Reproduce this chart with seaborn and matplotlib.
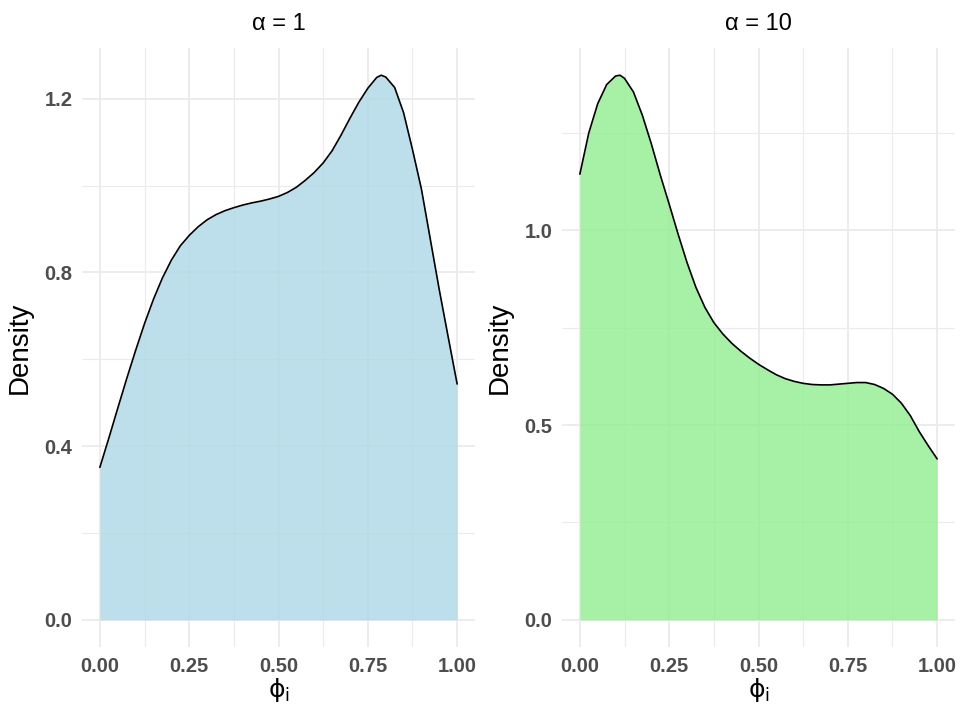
import numpy as np
import pandas as pd
import matplotlib
matplotlib.use("Agg")
import matplotlib.pyplot as plt
import seaborn as sns

# Density estimates of phi_i under two concentration parameters
phi_a1 = [0.0, 0.025, 0.05, 0.075, 0.1, 0.125, 0.15, 0.175, 0.2, 0.225,
          0.25, 0.275, 0.3, 0.325, 0.35, 0.375, 0.4, 0.425, 0.45, 0.475,
          0.5, 0.525, 0.55, 0.575, 0.6, 0.625, 0.65, 0.675, 0.7, 0.725,
          0.75, 0.775, 0.7875, 0.8, 0.825, 0.85, 0.875, 0.9, 0.925, 0.95,
          0.975, 1.0]
dens_a1 = [0.351, 0.418, 0.487, 0.555, 0.620, 0.682, 0.738, 0.787, 0.828,
           0.861, 0.885, 0.905, 0.921, 0.933, 0.942, 0.949, 0.955, 0.960,
           0.964, 0.969, 0.975, 0.984, 0.996, 1.012, 1.030, 1.052, 1.080,
           1.116, 1.155, 1.192, 1.224, 1.249, 1.254, 1.250, 1.226, 1.168,
           1.083, 0.992, 0.876, 0.760, 0.651, 0.543]

phi_a10 = [0.0, 0.025, 0.05, 0.075, 0.1, 0.1125, 0.125, 0.15, 0.175, 0.2,
           0.225, 0.25, 0.275, 0.3, 0.325, 0.35, 0.375, 0.4, 0.425, 0.45,
           0.475, 0.5, 0.525, 0.55, 0.575, 0.6, 0.625, 0.65, 0.675, 0.7,
           0.725, 0.75, 0.775, 0.8, 0.825, 0.85, 0.875, 0.9, 0.925, 0.95,
           0.975, 1.0]
dens_a10 = [1.144, 1.250, 1.325, 1.374, 1.396, 1.398, 1.390, 1.355, 1.295,
            1.222, 1.142, 1.067, 0.990, 0.917, 0.853, 0.802, 0.763, 0.734,
            0.710, 0.690, 0.672, 0.656, 0.642, 0.629, 0.619, 0.612, 0.607,
            0.604, 0.603, 0.603, 0.605, 0.607, 0.609, 0.609, 0.604, 0.594,
            0.579, 0.556, 0.524, 0.483, 0.447, 0.413]

panel_titles = ["\u03b1 = 1", "\u03b1 = 10"]
fill_colors = ["#ADD8E6", "#90EE90"]
x_ticks = [0.0, 0.25, 0.5, 0.75, 1.0]
x_ticklabels = ["0.00", "0.25", "0.50", "0.75", "1.00"]
y_ticks = [[0.0, 0.4, 0.8, 1.2], [0.0, 0.5, 1.0]]
y_ticklabels = [["0.0", "0.4", "0.8", "1.2"], ["0.0", "0.5", "1.0"]]

sns.set_theme(style="white")
plt.rcParams["font.family"] = ["Liberation Sans", "DejaVu Sans"]
plt.rcParams["mathtext.fontset"] = "dejavusans"

W, H = 961, 708
fig = plt.figure(figsize=(W / 100, H / 100), dpi=100)
fig.patch.set_facecolor("white")

panel_left = [82, 562]
panel_top, panel_bottom, panel_w = 48, 647, 393

frames = [pd.DataFrame({"phi": phi_a1, "density": dens_a1}),
          pd.DataFrame({"phi": phi_a10, "density": dens_a10})]

grid_col = "#EBEBEB"

for i, df in enumerate(frames):
    ax = fig.add_axes([panel_left[i] / W, (H - panel_bottom) / H,
                       panel_w / W, (panel_bottom - panel_top) / H])
    ax.set_facecolor("white")
    for s in ax.spines.values():
        s.set_visible(False)

    # grid: majors at ticks, minors halfway between
    yt = y_ticks[i]
    step = yt[1] - yt[0]
    ymax = df["density"].max()
    ylo, yhi = -0.05 * ymax, ymax * 1.05
    for v in x_ticks:
        ax.axvline(v, color=grid_col, lw=1.3, zorder=0)
    for v in np.arange(0.125, 1.0, 0.25):
        ax.axvline(v, color=grid_col, lw=0.8, zorder=0)
    for v in yt:
        ax.axhline(v, color=grid_col, lw=1.3, zorder=0)
    mv = step / 2
    while mv < yhi:
        ax.axhline(mv, color=grid_col, lw=0.8, zorder=0)
        mv += step

    ax.fill_between(df["phi"], 0, df["density"], color=fill_colors[i],
                    alpha=0.8, lw=0, zorder=1)
    sns.lineplot(data=df, x="phi", y="density", ax=ax, color="black",
                 lw=1.2, sort=True, zorder=2, solid_joinstyle="round")

    ax.set_xlim(-0.05, 1.05)
    ax.set_ylim(ylo, yhi)
    ax.set_xticks(x_ticks)
    ax.set_xticklabels(x_ticklabels)
    ax.set_yticks(yt)
    ax.set_yticklabels(y_ticklabels[i])
    ax.tick_params(length=0, labelsize=14.5, labelcolor="#4D4D4D", pad=7)
    for lab in ax.get_xticklabels() + ax.get_yticklabels():
        lab.set_fontweight("bold")

    ax.set_xlabel(r"$\mathrm{\phi}_{\mathrm{i}}$", fontsize=18, color="black",
                  labelpad=0)
    ax.set_ylabel("Density", fontsize=20, color="black", labelpad=8)
    ax.set_title(panel_titles[i], fontsize=17, color="black", pad=13)

fig.savefig("out.png", dpi=100, facecolor="white")
